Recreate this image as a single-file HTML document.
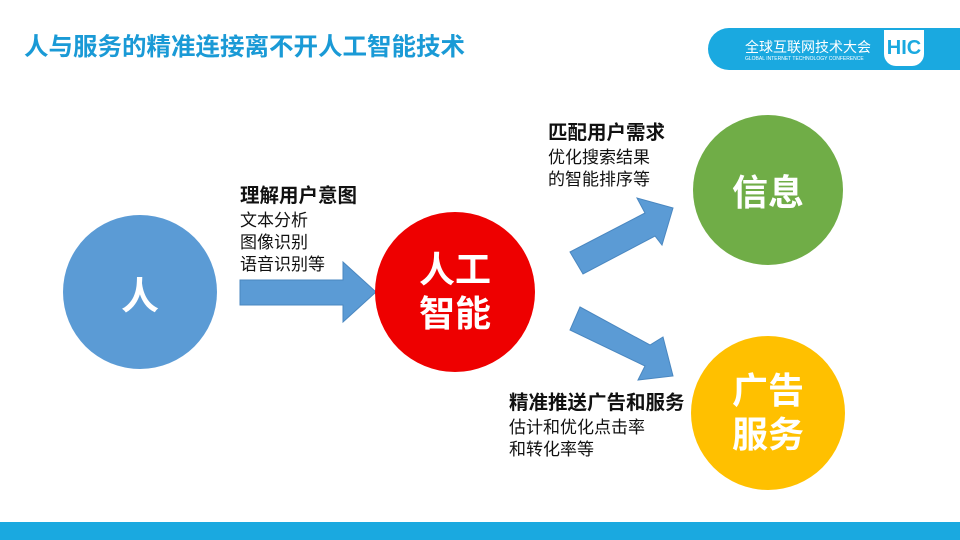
<!DOCTYPE html>
<html><head><meta charset="utf-8"><style>
body{margin:0;width:960px;height:540px;background:#fff;position:relative;overflow:hidden;font-family:"Liberation Sans","Noto Sans CJK SC",sans-serif}
.a{position:absolute;white-space:nowrap}
.c{position:absolute;border-radius:50%;color:#fff;font-weight:bold;display:flex;align-items:center;justify-content:center;text-align:center}
.t{font-size:17px;color:#111;line-height:22px}
.t b{font-size:19.5px;display:block;line-height:26px;margin-bottom:1px}
</style></head><body>
<div class="a" style="left:24px;top:28px;font-size:24.5px;font-weight:bold;color:#1a9ad6">人与服务的精准连接离不开人工智能技术</div>
<div class="a" style="left:708px;top:28px;width:260px;height:42px;background:#1aa9e0;border-radius:21px 0 0 21px"></div>
<div class="a" style="left:745px;top:37px;font-size:14px;color:#fff">全球互联网技术大会</div>
<div class="a" style="left:745px;top:56px;font-size:5px;color:#fff">GLOBAL INTERNET TECHNOLOGY CONFERENCE</div>
<div class="a" style="left:884px;top:30px;width:40px;height:36px;background:#fff;color:#1aa9e0;font-weight:bold;font-size:20px;text-align:center;line-height:36px;border-radius:0 0 12px 12px">HIC</div>
<div class="a" style="left:0;top:522px;width:960px;height:18px;background:#1aa9e0"></div>
<svg class="a" style="left:0;top:0" width="960" height="540">
<polygon points="240,280 343,280 343,262 376,292 343,322 343,305 240,305" fill="#5b9bd5" stroke="#4a87c0"/>
<polygon points="570,252 645,213 637,198 673,208 662,245 655,236 583,274" fill="#5b9bd5" stroke="#4a87c0"/>
<polygon points="580,307 650,345 663,337 673,376 638,380 645,366 570,330" fill="#5b9bd5" stroke="#4a87c0"/>
</svg>
<div class="c" style="left:63px;top:215px;width:154px;height:154px;background:#5b9bd5;font-size:38px">人</div>
<div class="c" style="left:375px;top:212px;width:160px;height:160px;background:#ee0000;font-size:36px;line-height:44px">人工<br>智能</div>
<div class="c" style="left:693px;top:115px;width:150px;height:150px;background:#70ad47;font-size:36px">信息</div>
<div class="c" style="left:691px;top:336px;width:154px;height:154px;background:#ffc000;font-size:36px;line-height:44px">广告<br>服务</div>
<div class="a t" style="left:240px;top:183px"><b>理解用户意图</b>文本分析<br>图像识别<br>语音识别等</div>
<div class="a t" style="left:548px;top:120px"><b>匹配用户需求</b>优化搜索结果<br>的智能排序等</div>
<div class="a t" style="left:509px;top:390px"><b>精准推送广告和服务</b>估计和优化点击率<br>和转化率等</div>
</body></html>
